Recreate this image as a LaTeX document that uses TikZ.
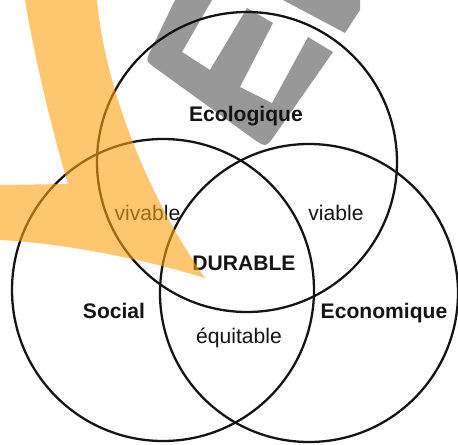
\documentclass[tikz,border=0pt]{standalone}
\usepackage{fontspec}
\setmainfont{Liberation Sans}
\usetikzlibrary{calc,positioning}
\definecolor{wmorange}{RGB}{255,160,17}
\definecolor{wmgray}{RGB}{152,152,152}
\definecolor{ink}{RGB}{20,20,20}
\begin{document}
\begin{tikzpicture}[x=0.2mm,y=-0.2mm,
ring/.style={draw=ink,line width=1.3pt},
lbl/.style={anchor=base,inner sep=0pt,text=ink,font=\fontsize{12pt}{14pt}\selectfont},
blbl/.style={lbl,font=\fontsize{12pt}{14pt}\selectfont\bfseries}]
\useasboundingbox(0,0)rectangle(458,445);
\fill[white](0,0)rectangle(458,445);
\fill[wmgray](175,0)--(150.8,50.2)..controls(145.6,61)..(155.3,68)--(251.4,137.5)..controls(266,148)..(276.2,133.2)--(333,52)--(308,37)--(272,103)--(240,87)--(273,23)--(247,8)--(210,70)--(182,52)--(212,0)--cycle;
\fill[wmgray](283,0)--(360,0)--(360,10)--(345,33)--cycle;
\coordinate(cE)at(247,162);
\coordinate(cS)at(163,290);
\coordinate(cN)at(309,293);
\draw[ring](cE)circle(150);
\draw[ring](cS)circle(151);
\draw[ring](cN)circle(149);
\node[blbl](eco)at(246,121){Ecologique};
\node[lbl](vivable)at(147.5,220.5){vivable};
\node[lbl](viable)at(336,220.5){viable};
\node[blbl](durable)at(244,270){DURABLE};
\node[blbl](social)at(114,318){Social};
\node[blbl](econ)at(384,318){Economique};
\node[lbl](equi)at(239,343){équitable};
\fill[wmorange,fill opacity=0.6](25,0)--(97,0)..controls(105,90)and(150,200)..(205,278)..controls(140,258)and(60,243)..(0,240)--(0,185)--(68,184)..controls(52,130)and(35,60)..(25,0)--cycle;
\end{tikzpicture}
\end{document}
